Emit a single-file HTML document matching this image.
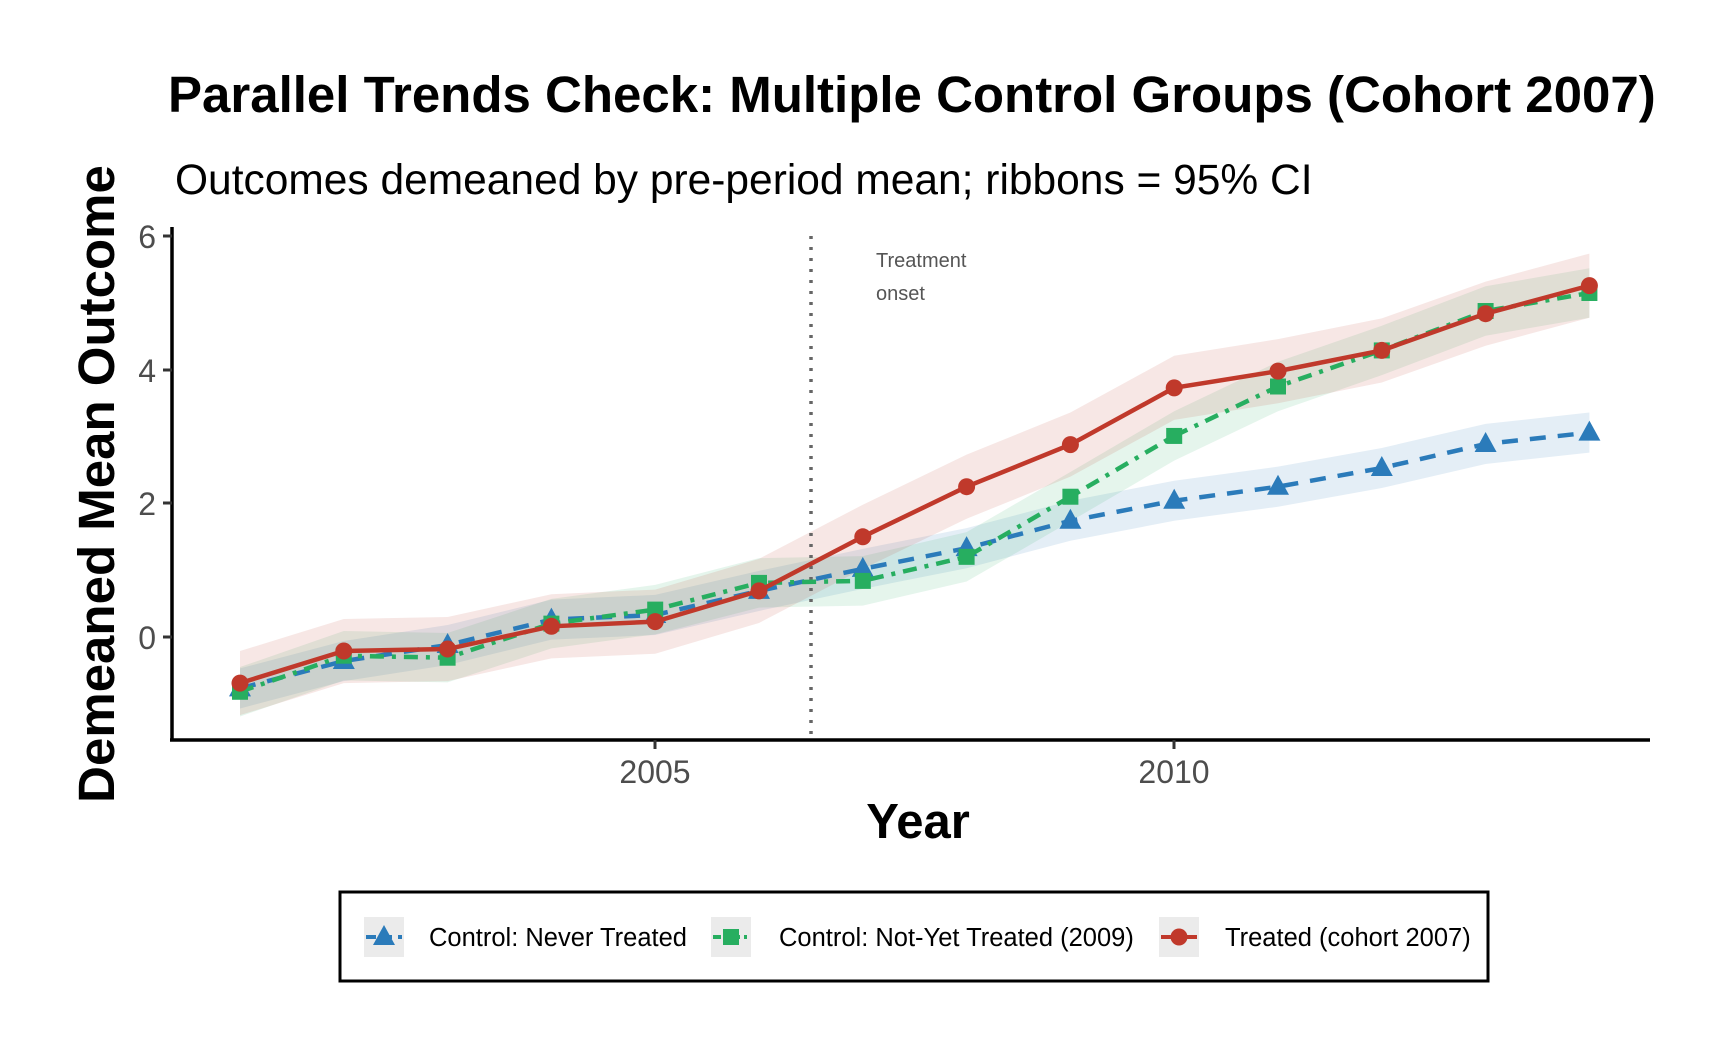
<!DOCTYPE html>
<html><head><meta charset="utf-8"><style>
html,body{margin:0;padding:0;background:#fff;}
svg{display:block;font-family:"Liberation Sans",Arial,sans-serif;}
</style></head><body>
<svg id="c" width="1728" height="1056" viewBox="0 0 1728 1056" xmlns="http://www.w3.org/2000/svg">
<rect width="1728" height="1056" fill="#fff"/>
<text x="168" y="112" font-size="51" font-weight="bold" fill="#000">Parallel Trends Check: Multiple Control Groups (Cohort 2007)</text>
<text x="175" y="194" font-size="42.5" fill="#000">Outcomes demeaned by pre-period mean; ribbons = 95% CI</text>
<g id="plot"></g>
<line x1="172" y1="227" x2="172" y2="740" stroke="#000" stroke-width="3.5"/>
<line x1="170" y1="740" x2="1650" y2="740" stroke="#000" stroke-width="3.5"/>
<g fill="#4d4d4d" font-size="32" text-anchor="end">
<text x="156" y="248">6</text><text x="156" y="382">4</text><text x="156" y="515">2</text><text x="156" y="649">0</text>
</g>
<g stroke="#333" stroke-width="3"><line x1="163" y1="236" x2="172" y2="236"/><line x1="163" y1="370" x2="172" y2="370"/><line x1="163" y1="503" x2="172" y2="503"/><line x1="163" y1="637" x2="172" y2="637"/>
<line x1="655" y1="740" x2="655" y2="749"/><line x1="1174" y1="740" x2="1174" y2="749"/></g>
<g fill="#4d4d4d" font-size="32" text-anchor="middle"><text x="655" y="783">2005</text><text x="1174" y="783">2010</text></g>
<text x="918" y="838" font-size="49" font-weight="bold" text-anchor="middle">Year</text>
<text transform="translate(114,484) rotate(-90)" font-size="51" font-weight="bold" text-anchor="middle">Demeaned Mean Outcome</text>
<rect x="340" y="892" width="1148" height="89" fill="#fff" stroke="#000" stroke-width="3"/>
<g id="leg"></g>
<g font-size="25.5" fill="#000"><text x="429" y="946">Control: Never Treated</text><text x="779" y="946">Control: Not-Yet Treated (2009)</text><text x="1225" y="946">Treated (cohort 2007)</text></g>
</svg>
<script>
const NS="http://www.w3.org/2000/svg";
const X=y=>240+(y-2001)*103.8, Y=v=>637-66.8*v;
const yrs=[];for(let i=2001;i<=2014;i++)yrs.push(i);
const blue=[-0.77,-0.36,-0.12,0.26,0.33,0.69,1.02,1.33,1.74,2.04,2.25,2.53,2.89,3.06];
const green=[-0.82,-0.28,-0.31,0.2,0.41,0.81,0.84,1.2,2.1,3.01,3.75,4.29,4.88,5.15];
const red=[-0.69,-0.21,-0.18,0.16,0.23,0.69,1.5,2.25,2.88,3.73,3.98,4.29,4.84,5.26];
const P=document.getElementById('plot');
function el(t,a,p){const e=document.createElementNS(NS,t);for(const k in a)e.setAttribute(k,a[k]);(p||P).appendChild(e);return e;}
function ribbon(d,h,col){let up=yrs.map((y,i)=>X(y)+','+Y(d[i]+h)),dn=yrs.map((y,i)=>X(y)+','+Y(d[i]-h)).reverse();el('polygon',{points:up.concat(dn).join(' '),fill:col});}
ribbon(blue,0.3,'rgba(44,127,184,0.13)');ribbon(green,0.37,'rgba(39,174,96,0.12)');ribbon(red,0.48,'rgba(192,57,43,0.12)');
el('line',{x1:811,y1:236,x2:811,y2:740,stroke:'#666','stroke-width':3.5,'stroke-dasharray':'3,8'});
const t1=el('text',{x:876,y:267,'font-size':20,fill:'#555'});t1.textContent='Treatment';
const t2=el('text',{x:876,y:300,'font-size':20,fill:'#555'});t2.textContent='onset';
function line(d,col,dash){el('polyline',{points:yrs.map((y,i)=>X(y)+','+Y(d[i])).join(' '),fill:'none',stroke:col,'stroke-width':4.5,'stroke-dasharray':dash||'none'});}
function tri(x,y,c,p){el('polygon',{points:`${x},${y-12} ${x-11},${y+8} ${x+11},${y+8}`,fill:c},p);}
function sq(x,y,c,p){el('rect',{x:x-8,y:y-8,width:16,height:16,fill:c},p);}
function circ(x,y,c,p){el('circle',{cx:x,cy:y,r:8.5,fill:c},p);}
line(blue,'#2b7bba','16,12');yrs.forEach((y,i)=>tri(X(y),Y(blue[i]),'#2b7bba'));
line(green,'#27ae60','14,8,4,8');yrs.forEach((y,i)=>sq(X(y),Y(green[i]),'#27ae60'));
line(red,'#c0392b');yrs.forEach((y,i)=>circ(X(y),Y(red[i]),'#c0392b'));
const L=document.getElementById('leg');
[[364,'#2b7bba',tri,'10,6'],[711,'#27ae60',sq,'8,4,3,4'],[1159,'#c0392b',circ,'none']].forEach(([x,c,f,d])=>{
el('rect',{x:x,y:917,width:40,height:40,fill:'#ebebeb'},L);
el('line',{x1:x+2,y1:937,x2:x+38,y2:937,stroke:c,'stroke-width':4,'stroke-dasharray':d},L);
f(x+20,937,c,L);});
</script>
</body></html>
